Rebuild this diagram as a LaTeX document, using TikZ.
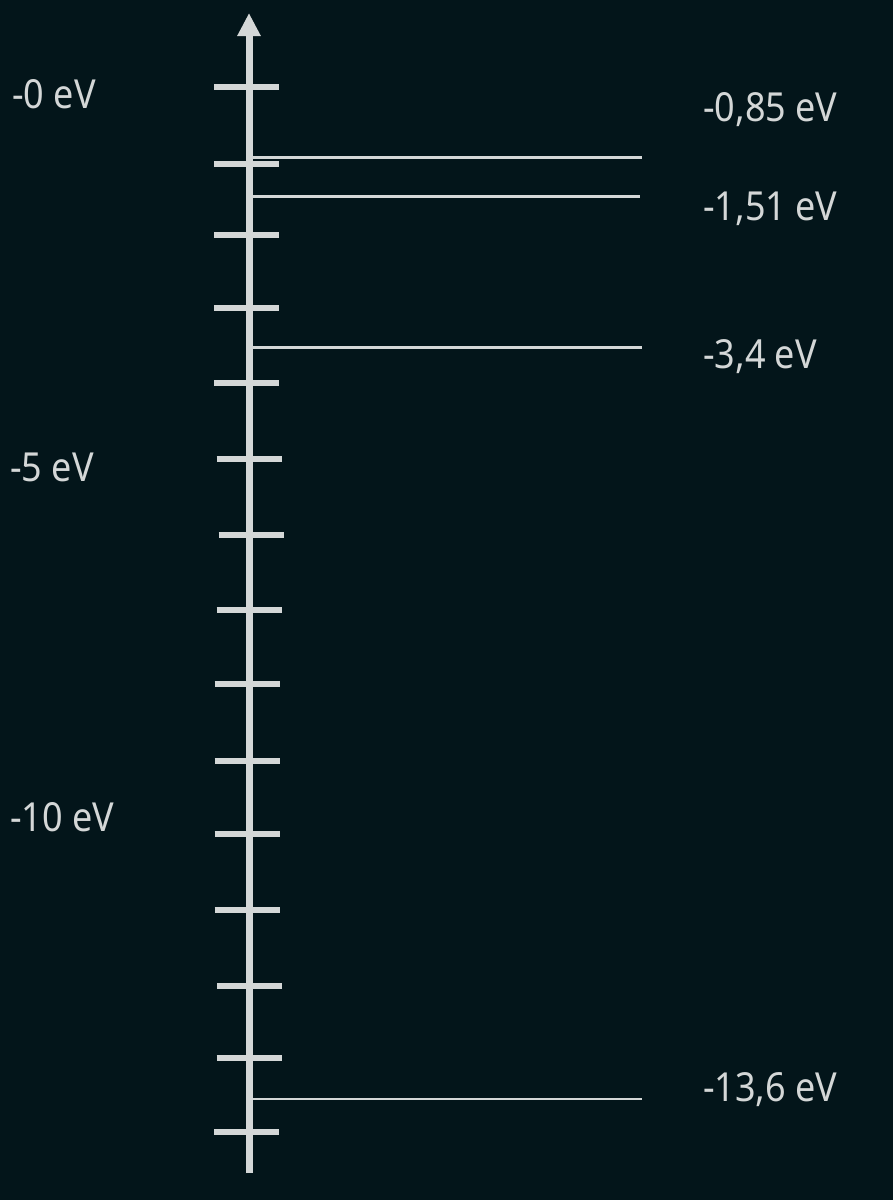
\documentclass[tikz,border=0pt]{standalone}
\usepackage{fontspec}
\setmainfont{Noto Sans}[FakeStretch=0.9]
\usetikzlibrary{arrows.meta}
\definecolor{bgdark}{HTML}{03151A}
\definecolor{axisgray}{HTML}{D4D7D7}
\tikzstyle{energyaxis} = [draw, line width=7pt, color=axisgray, -{Triangle[width=22pt,length=23pt]}]
\tikzstyle{tickmark} = [draw, line width=6pt, color=axisgray]
\tikzstyle{energylevel} = [draw, line width=2.5pt, color=axisgray]
\tikzstyle{evlabel} = [text=axisgray, anchor=base west, inner sep=0pt, font=\fontsize{40}{48}\selectfont]
\newcommand{\evlevel}[3]{%
\coordinate (l#1-a) at (253,#2);
\coordinate (l#1-b) at (#3,#2);
\path [energylevel] (l#1-a) -- (l#1-b);}
\begin{document}
\begin{tikzpicture}[x=1pt,y=-1pt]
% Background
\fill[bgdark] (0,0) rectangle (893,1200);
\useasboundingbox (0,0) rectangle (893,1200);
% Energy axis
\coordinate (ax-bot) at (249,1173);
\coordinate (ax-top) at (249,13);
\path [energyaxis] (ax-bot) -- (ax-top);
% Tick marks
\foreach \y/\x in {87/214, 164/214, 235/214, 307.5/214, 382.7/214, 459/216.7,
  534.5/218.7, 610/216.7, 684/214.7, 761/214.7, 834.3/214.7, 909.5/214.7,
  985.5/217, 1058.3/216.7, 1132/214}
  \path [tickmark] (\x,\y) -- ++(65,0);
% Energy levels
\evlevel{4}{157.5}{641.5}
\evlevel{3}{196.5}{639.5}
\evlevel{2}{347.3}{641.5}
\evlevel{1}{1099}{641.5}
% Scale labels
\node[evlabel] (s0) at (12,108) {-0 eV};
\node[evlabel] (s5) at (10,481) {-5 eV};
\node[evlabel] (s10) at (10,831) {-10 eV};
% Level labels
\node[evlabel] (e4) at (703,121.7) {-0,85 eV};
\node[evlabel] (e3) at (703,220.7) {-1,51 eV};
\node[evlabel] (e2) at (703,368) {-3,4 eV};
\node[evlabel] (e1) at (703,1101.7) {-13,6 eV};
\end{tikzpicture}
\end{document}
